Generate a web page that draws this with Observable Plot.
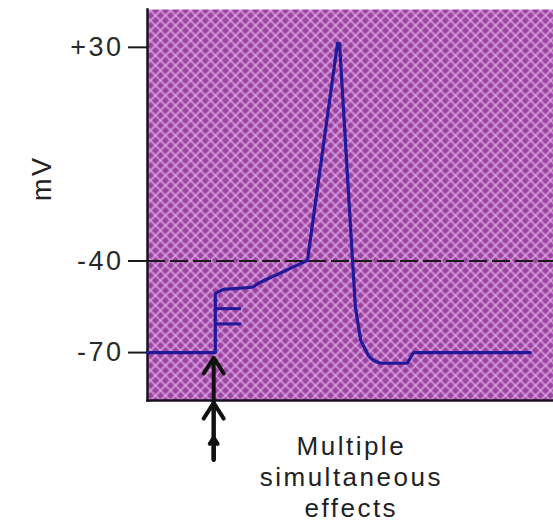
<!DOCTYPE html>
<html>
<head>
<meta charset="utf-8">
<script src="https://cdn.jsdelivr.net/npm/d3@7"></script>
<script src="https://cdn.jsdelivr.net/npm/@observablehq/plot@0.6"></script>
<style>
  html, body { margin: 0; padding: 0; background: #fff; }
  #chart svg { display: block; }
</style>
</head>
<body>
<div id="chart"></div>
<script>
// membrane potential trace (time in arbitrary units, voltage in mV)
const traceT = [0, 1.67, 1.67, 1.87, 2.59, 2.73, 3.94, 4.68, 4.73, 5.05, 5.12, 5.25, 5.45, 5.57, 5.74, 6.40, 6.55, 9.43];
const traceV = [-70, -70, -50.6, -49.3, -48.6, -47.3, -39.8, 31.3, 31.3, -39.8, -55, -66, -71.2, -72.6, -73.5, -73.5, -70, -70];
// small graded steps on the rising edge ("E")
const stepV = [-55.6, -60.6];
const stepT0 = 1.67, stepT1 = 2.3;
// stimulus arrows below the trace
const arrowT = 1.63;
const arrowBase = -105.1;
const arrowTips = [-71.7, -86.5, -97.9];
// axis
const yTicks = [30, -40, -70];
const yTickLabels = ["+30", "-40", "-70"];
const thresholdV = -40;
const yLabel = "mV";
const captionLines = ["Multiple", "simultaneous", "effects"];
const captionT = 5.02;

const trace = traceT.map((t, i) => ({t, v: traceV[i]}));
const steps = stepV.map(v => ({t1: stepT0, t2: stepT1, v}));
const arrows = arrowTips.map(tip => ({t: arrowT, y1: arrowBase, y2: tip}));

const plot = Plot.plot({
  width: 553,
  height: 528,
  marginLeft: 147,
  marginRight: 0,
  marginTop: 9,
  marginBottom: 128,
  style: {fontFamily: "'Liberation Sans', Arial, sans-serif", background: "#fff", letterSpacing: "2.5px", color: "#222"},
  x: {domain: [0, 10], axis: null},
  y: {domain: [-85.7, 42.4], axis: null},
  marks: [
    Plot.frame({fill: "url(#hatch)", stroke: "none"}),
    Plot.ruleY([thresholdV], {stroke: "#1a1a1a", strokeWidth: 2, strokeDasharray: "18,5"}),
    Plot.frame({anchor: "left", stroke: "#1a1020", strokeWidth: 2.5}),
    Plot.frame({anchor: "bottom", stroke: "#1a1020", strokeWidth: 2.5}),
    Plot.axisY({
      ticks: yTicks,
      tickFormat: (d) => yTickLabels[yTicks.indexOf(d)],
      tickSize: 19,
      tickPadding: 5,
      fontSize: 27,
      stroke: "#1a1a1a",
      strokeWidth: 2,
      label: null,
      fill: "#2a2a2a"
    }),
    Plot.text([yLabel], {frameAnchor: "left", rotate: -90, dx: -105, dy: -4, fontSize: 27, fill: "#222"}),
    Plot.link(steps, {x1: "t1", x2: "t2", y1: "v", y2: "v", stroke: "#22189a", strokeWidth: 3}),
    Plot.line(trace, {x: "t", y: "v", stroke: "#22189a", strokeWidth: 3.2, strokeLinejoin: "round", strokeLinecap: "round"}),
    Plot.arrow(arrows, {x1: "t", x2: "t", y1: "y1", y2: "y2", stroke: "#111", strokeWidth: 4, headLength: 7, headAngle: 65}),
    Plot.text([captionLines.join("\n")], {x: () => captionT, frameAnchor: "bottom", lineAnchor: "top", dy: 33, lineHeight: 1.18, fontSize: 26, fill: "#222", textAnchor: "middle"})
  ]
});

// crosshatch pattern used as the plot-area fill
const ns = "http://www.w3.org/2000/svg";
const defs = document.createElementNS(ns, "defs");
defs.innerHTML = `
<pattern id="hatch" patternUnits="userSpaceOnUse" width="10" height="10">
  <rect width="10" height="10" fill="#9c42a2"/>
  <path d="M-1,1 l2,-2 M0,10 l10,-10 M9,11 l2,-2" stroke="#e0aee4" stroke-width="1.6" opacity="0.85"/>
  <path d="M-1,9 l2,2 M0,0 l10,10 M9,-1 l2,2" stroke="#dca6e2" stroke-width="1.6" opacity="0.85"/>
</pattern>`;
plot.insertBefore(defs, plot.firstChild);
document.getElementById("chart").appendChild(plot);
</script>
</body>
</html>
